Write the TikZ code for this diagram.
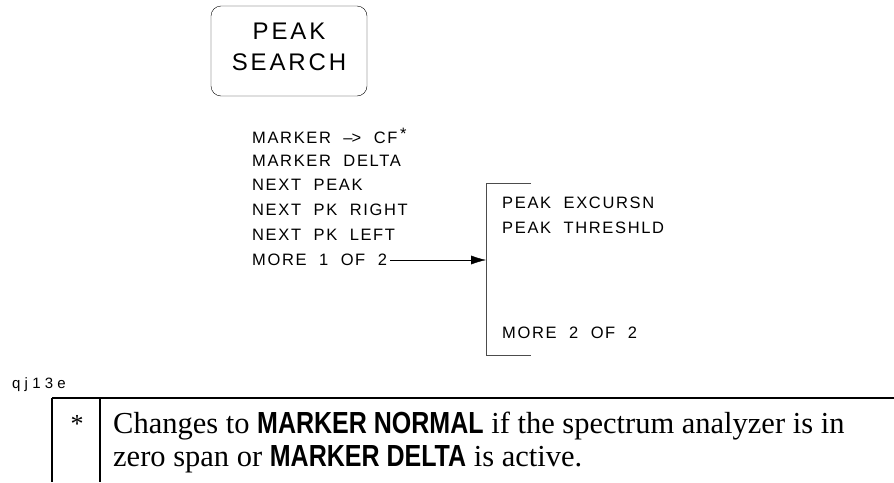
\documentclass[tikz,border=0pt]{standalone}
\usepackage{fontspec}
\setmainfont{Liberation Serif}
\newfontfamily\plotfont[LetterSpace=10,WordSpace=2]{Liberation Sans}
\newfontfamily\panelfont[LetterSpace=12]{Liberation Sans}
\newfontfamily\idfont[LetterSpace=28]{Liberation Sans}
\newfontfamily\keyfont[FakeStretch=0.82]{Liberation Sans}
\usetikzlibrary{arrows.meta,positioning}
\newcommand{\softkey}[1]{{\keyfont\bfseries #1}}

\begin{document}
\begin{tikzpicture}[x=1pt,y=-1pt,>={Latex[length=15pt,width=9pt]},
    menu/.style={anchor=west,inner sep=0pt,font=\plotfont\fontsize{16.5}{16.5}\selectfont},
    hardkey/.style={draw,rounded corners=10pt,minimum width=156pt,minimum height=90pt},
    keytext/.style={align=center,inner sep=0pt,font=\panelfont\fontsize{24}{31}\selectfont},
    note/.style={anchor=base west,inner sep=0pt,font=\fontsize{30.5}{33}\selectfont}]
  \useasboundingbox (0,0) rectangle (894,482);
  % front panel key
  \node[hardkey] (key) at (289,51) {};
  \node[keytext] (keylbl) at (289,47) {PEAK\\SEARCH};
  % first menu page
  \node[menu] (m1) at (252,136) {MARKER \textendash\kern-1pt> CF\,\raisebox{4pt}{*}};
  \node[menu] (m2) at (252,161) {MARKER DELTA};
  \node[menu] (m3) at (252,185) {NEXT PEAK};
  \node[menu] (m4) at (252,210) {NEXT PK RIGHT};
  \node[menu] (m5) at (252,235) {NEXT PK LEFT};
  \node[menu] (m6) at (252,260) {MORE 1 OF 2};
  % second menu page
  \coordinate (bt) at (486,183);
  \coordinate (bb) at (486,355);
  \draw[black!70] (531,183) -- (bt) -- (bb) -- (531,355);
  \node[menu] (n1) at (502,203) {PEAK EXCURSN};
  \node[menu] (n2) at (502,228) {PEAK THRESHLD};
  \node[menu] (n3) at (502,333) {MORE 2 OF 2};
  \draw[->] ([xshift=3pt]m6.east) -- (m6.east -| bt);
  \node[anchor=west,inner sep=0pt,font=\idfont\fontsize{15}{15}\selectfont] (id) at (12,385) {qj13e};
  % footnote table
  \draw[line width=1.5pt] (52,398) -- (894,398);
  \draw[line width=1.2pt] (52,398) -- (52,482) (100,398) -- (100,482);
  \node[font=\fontsize{26}{26}\selectfont] (star) at (77,424) {*};
  \node[note] (note1) at (113,433)
    {Changes to \softkey{MARKER NORMAL} if the spectrum analyzer is in};
  \node[note] (note2) at (113,466)
    {zero span or \softkey{MARKER DELTA} is active.};
\end{tikzpicture}
\end{document}
